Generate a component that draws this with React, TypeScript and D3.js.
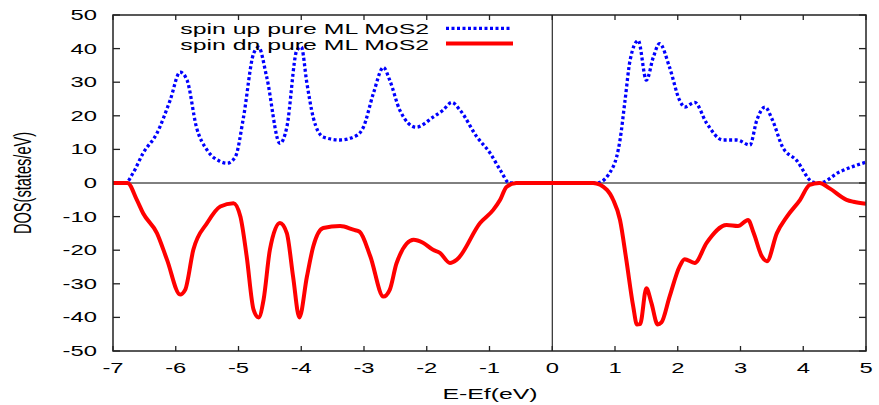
import React from "react";
import * as d3 from "d3";

const xTicks = [-7, -6, -5, -4, -3, -2, -1, 0, 1, 2, 3, 4, 5];
const yTicks = [-50, -40, -30, -20, -10, 0, 10, 20, 30, 40, 50];

const upE = [-7, -6.8, -6.68, -6.52, -6.3, -6.09, -5.93, -5.82, -5.67, -5.5, -5.3, -5.18, -5.05, -4.92, -4.76, -4.68, -4.55, -4.34, -4.23, -4.07, -4.0, -3.91, -3.81, -3.65, -3.38, -3.11, -3.01, -2.85, -2.69, -2.59, -2.43, -2.17, -1.9, -1.74, -1.6, -1.47, -1.2, -0.99, -0.83, -0.68, 0, 0.71, 0.97, 1.08, 1.16, 1.24, 1.37, 1.5, 1.61, 1.71, 1.87, 2.03, 2.11, 2.27, 2.46, 2.72, 2.94, 3.15, 3.26, 3.39, 3.51, 3.67, 3.89, 4.15, 4.26, 4.58, 5.0];
const upDOS = [0, 0, 3, 8.9, 14.8, 24.6, 33, 30.6, 16.6, 9.8, 6.5, 5.9, 7.8, 19.6, 38.5, 40.4, 31.5, 11.8, 16.6, 39.5, 40.5, 29.7, 19.6, 13.7, 12.8, 14.2, 16.6, 26.7, 34.4, 30.6, 21.7, 16.6, 19.6, 21.7, 24, 21.7, 13.7, 8.9, 3.9, 0, 0, 0, 4.8, 12.8, 24.6, 36.5, 42.4, 30.6, 37.4, 41.5, 34.4, 24.6, 22.6, 24, 17.8, 12.8, 12.8, 11.3, 18.7, 22.6, 18.7, 10.7, 6.8, 0.3, 0, 3.3, 6.2];

const dnE = [-7, -6.77, -6.62, -6.52, -6.3, -6.14, -5.93, -5.85, -5.72, -5.5, -5.29, -5.08, -4.97, -4.87, -4.76, -4.68, -4.6, -4.5, -4.34, -4.23, -4.13, -4.03, -3.91, -3.81, -3.65, -3.38, -3.17, -3.07, -2.9, -2.69, -2.59, -2.48, -2.21, -2.06, -1.9, -1.79, -1.63, -1.52, -1.15, -0.94, -0.83, -0.73, -0.57, 0, 0.65, 0.87, 0.97, 1.08, 1.18, 1.29, 1.35, 1.4, 1.5, 1.58, 1.68, 1.74, 1.87, 2.03, 2.11, 2.27, 2.46, 2.78, 2.96, 3.12, 3.21, 3.34, 3.42, 3.58, 3.74, 3.95, 4.1, 4.26, 4.42, 4.69, 4.8, 5.0];
const dnDOS = [0, 0, -5, -9, -14.9, -22.8, -33.2, -31.8, -19.9, -11.9, -7, -6, -10, -21.8, -37.7, -40, -34.7, -19.9, -11.9, -14.9, -27.9, -40, -27.9, -19, -13.4, -12.8, -13.9, -14.5, -21.8, -33.8, -31.8, -23.8, -16.9, -17.8, -19.9, -20.8, -23.8, -22.8, -11.9, -8, -5, -1.2, 0, 0, 0, -2, -5, -11, -22.8, -36.7, -42.1, -42, -31.3, -35.7, -42.1, -41.5, -33.8, -24.8, -22.7, -23.8, -17.8, -12.5, -12.8, -11, -14.9, -21.8, -23.3, -14.9, -10, -5, -0.6, 0, -1.6, -5, -5.6, -6.2];

const legendLabels = ["spin up pure ML MoS2", "spin dn pure ML MoS2"];
const xLabel = "E-Ef(eV)";
const yLabel = "DOS(states/eV)";

const W = 879;
const H = 405;
const L = 113, R = 866, T = 15, B = 351;
const SX = 1.7;
const FONT = "'Liberation Sans', Arial, sans-serif";

export default function App() {
  const x = d3.scaleLinear().domain([-7, 5]).range([L, R]);
  const y = d3.scaleLinear().domain([-50, 50]).range([B, T]);
  const line = d3
    .line<[number, number]>()
    .x((d) => x(d[0]))
    .y((d) => y(d[1]))
    .curve(d3.curveMonotoneX);
  const upPts = upE.map((e, i) => [e, upDOS[i]] as [number, number]);
  const dnPts = dnE.map((e, i) => [e, dnDOS[i]] as [number, number]);

  const txt = (
    key: string,
    tx: number,
    ty: number,
    s: string,
    anchor: string,
    size = 14,
    rot = 0
  ) => (
    <text
      key={key}
      transform={`translate(${tx},${ty}) scale(${SX},1) rotate(${rot})`}
      textAnchor={anchor}
      fontFamily={FONT}
      fontSize={size}
      fill="#000"
    >
      {s}
    </text>
  );

  return (
    <svg
      width={W}
      height={H}
      style={{ position: "fixed", left: 0, top: 0, background: "#fff" }}
    >
      <defs>
        <clipPath id="plot">
          <rect x={L} y={T} width={R - L} height={B - T} />
        </clipPath>
      </defs>
      <rect x={0} y={0} width={W} height={H} fill="#fff" />
      <line x1={L} x2={R} y1={y(0)} y2={y(0)} stroke="#000" strokeWidth={1} />
      <line x1={x(0)} x2={x(0)} y1={T} y2={B} stroke="#000" strokeWidth={1} />
      {yTicks.map((t) => (
        <g key={"yt" + t}>
          <line x1={L} x2={L + 7} y1={y(t)} y2={y(t)} stroke="#222" strokeWidth={1.3} />
          <line x1={R} x2={R - 7} y1={y(t)} y2={y(t)} stroke="#222" strokeWidth={1.3} />
          {txt("ytl" + t, 97, y(t) + 5, String(t), "end")}
        </g>
      ))}
      {xTicks.map((t) => (
        <g key={"xt" + t}>
          <line x1={x(t)} x2={x(t)} y1={B} y2={B - 5} stroke="#222" strokeWidth={1.3} />
          <line x1={x(t)} x2={x(t)} y1={T} y2={T + 5} stroke="#222" strokeWidth={1.3} />
          {txt("xtl" + t, x(t), 373, String(t), "middle")}
        </g>
      ))}
      <g clipPath="url(#plot)">
        <path
          d={line(upPts) || ""}
          fill="none"
          stroke="#0000ff"
          strokeWidth={3.3}
          strokeDasharray="3,2.5"
        />
        <path
          d={line(dnPts) || ""}
          fill="none"
          stroke="#ff0000"
          strokeWidth={4}
          strokeLinejoin="round"
        />
      </g>
      <rect x={L} y={T} width={R - L} height={B - T} fill="none" stroke="#222" strokeWidth={1.5} />
      {txt("lg0", 429, 34, legendLabels[0], "end", 14.6)}
      {txt("lg1", 429, 50, legendLabels[1], "end", 14.6)}
      <line x1={446} x2={511} y1={28.3} y2={28.3} stroke="#0000ff" strokeWidth={3.3} strokeDasharray="3,2.5" />
      <line x1={446} x2={513} y1={43.5} y2={43.5} stroke="#ff0000" strokeWidth={4} />
      {txt("xl", 490, 399, xLabel, "middle", 14.6)}
      {txt("yl", 31, 183, yLabel, "middle", 14.6, -90)}
    </svg>
  );
}
